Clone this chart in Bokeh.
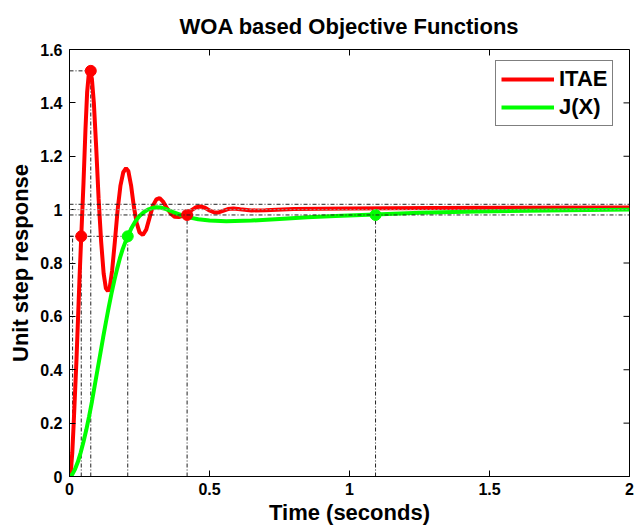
from bokeh.plotting import figure
from bokeh.models import Range1d, LinearAxis, FixedTicker, Legend, LegendItem, Span
from bokeh.embed import file_html
from bokeh.resources import INLINE

# ---------------- data ----------------
itae_t = [0.000, 0.005, 0.010, 0.015, 0.020, 0.025, 0.030, 0.036, 0.042, 0.050,
          0.057, 0.063, 0.069, 0.074, 0.080, 0.087, 0.095, 0.104, 0.113, 0.122,
          0.130, 0.137, 0.144, 0.152, 0.162, 0.172, 0.182, 0.192, 0.202, 0.210,
          0.220, 0.230, 0.240, 0.250, 0.262, 0.274, 0.286, 0.298, 0.310, 0.322,
          0.334, 0.348, 0.362, 0.376, 0.390, 0.405, 0.420, 0.436, 0.452, 0.468,
          0.484, 0.500, 0.515, 0.530, 0.548, 0.566, 0.585, 0.610, 0.650, 0.700,
          0.800, 1.000, 1.300, 1.600, 2.000]
itae_y = [0.000, 0.025, 0.090, 0.200, 0.320, 0.440, 0.580, 0.750, 0.900, 1.100,
          1.300, 1.440, 1.510, 1.520, 1.490, 1.400, 1.240, 1.040, 0.880, 0.760,
          0.705, 0.695, 0.710, 0.770, 0.880, 1.000, 1.090, 1.140, 1.155, 1.145,
          1.090, 1.010, 0.950, 0.915, 0.905, 0.925, 0.970, 1.015, 1.038, 1.043,
          1.030, 1.005, 0.985, 0.973, 0.972, 0.977, 0.984, 0.998, 1.009, 1.012,
          1.007, 0.997, 0.990, 0.989, 0.995, 1.002, 1.004, 1.001, 0.997, 0.998,
          1.002, 1.004, 1.006, 1.007, 1.008]

jx_t = [0.000, 0.010, 0.020, 0.030, 0.040, 0.050, 0.060, 0.070, 0.080, 0.090,
        0.100, 0.110, 0.120, 0.130, 0.140, 0.150, 0.160, 0.170, 0.180, 0.190,
        0.200, 0.208, 0.220, 0.235, 0.250, 0.265, 0.280, 0.295, 0.310, 0.325,
        0.345, 0.370, 0.400, 0.430, 0.460, 0.500, 0.560, 0.650, 0.750, 0.850,
        0.950, 1.090, 1.250, 1.450, 1.700, 2.000]
jx_y = [0.000, 0.008, 0.028, 0.055, 0.090, 0.130, 0.175, 0.225, 0.280, 0.340,
        0.400, 0.460, 0.520, 0.578, 0.634, 0.686, 0.734, 0.778, 0.818, 0.852,
        0.880, 0.900, 0.928, 0.956, 0.976, 0.990, 1.000, 1.006, 1.009, 1.008,
        1.002, 0.991, 0.979, 0.970, 0.964, 0.959, 0.956, 0.959, 0.965, 0.971,
        0.976, 0.982, 0.988, 0.993, 0.997, 1.000]

# characteristic points (rise time, peak, settling)
itae_marker_t = [0.042, 0.076, 0.420]
itae_marker_y = [0.90, 1.52, 0.98]
jx_marker_t = [0.208, 1.093]
jx_marker_y = [0.90, 0.98]
rise_start_t = [0.011]
rise_start_y = [0.90]
band_levels = [0.98, 1.02]
final_level = [1.0]

x_ticks = [0, 0.5, 1, 1.5, 2]
x_tick_labels = ["0", "0.5", "1", "1.5", "2"]
y_ticks = [0, 0.2, 0.4, 0.6, 0.8, 1.0, 1.2, 1.4, 1.6]
y_tick_labels = ["0", "0.2", "0.4", "0.6", "0.8", "1", "1.2", "1.4", "1.6"]

X_MIN, X_MAX = 0, 2
Y_MIN, Y_MAX = 0, 1.6

FONT = "Liberation Sans"
RED = "#ff0000"
GREEN = "#00ff00"
REF = "#222222"
DASH = "4 2 1 2"
W, H = 643, 530
B_LEFT, B_RIGHT, B_TOP, B_BOTTOM = 69, 14, 48, 54
TICK_PX = 6

p = figure(width=W, height=H, x_range=Range1d(X_MIN, X_MAX), y_range=Range1d(Y_MIN, Y_MAX),
           output_backend="svg", toolbar_location=None,
           title="WOA based Objective Functions",
           min_border_left=B_LEFT, min_border_right=B_RIGHT,
           min_border_top=B_TOP, min_border_bottom=B_BOTTOM)
p.xaxis.visible = False
p.yaxis.visible = False
p.grid.visible = False
p.outline_line_color = "black"
p.outline_line_width = 1
p.background_fill_color = "white"
p.border_fill_color = "white"

p.title.text_font = FONT
p.title.text_font_size = "22px"
p.title.text_font_style = "bold"
p.title.align = "center"
p.title.text_color = "black"
p.title.vertical_align = "bottom"
p.title.standoff = 22

def style_axis(ax, ticks, labels):
    ax.ticker = FixedTicker(ticks=ticks)
    ax.major_label_overrides = {t: l for t, l in zip(ticks, labels)}
    ax.minor_tick_line_color = None
    ax.major_tick_in = TICK_PX
    ax.major_tick_out = 0
    ax.axis_line_color = "black"
    ax.major_tick_line_color = "black"
    ax.major_label_text_font = FONT
    ax.major_label_text_font_style = "bold"
    ax.major_label_text_color = "black"
    ax.major_label_text_font_size = "16px"
    ax.axis_label_text_font = FONT
    ax.axis_label_text_font_size = "22px"
    ax.axis_label_text_font_style = "bold"
    ax.axis_label_text_color = "black"

xb = LinearAxis(axis_label="Time (seconds)")
style_axis(xb, x_ticks, x_tick_labels)
xb.major_label_standoff = 6
xb.axis_label_standoff = 2
p.add_layout(xb, "below")

yl = LinearAxis(axis_label="Unit step response")
style_axis(yl, y_ticks, y_tick_labels)
yl.major_label_standoff = 7
yl.axis_label_standoff = 4
p.add_layout(yl, "left")

# box ticks on the top and right edges (MATLAB style), drawn inward
fw = W - B_LEFT - B_RIGHT
fh = H - B_TOP - B_BOTTOM
dx_tick = TICK_PX * (X_MAX - X_MIN) / fw
dy_tick = TICK_PX * (Y_MAX - Y_MIN) / fh
p.segment(x0=x_ticks, y0=[Y_MAX] * len(x_ticks), x1=x_ticks,
          y1=[Y_MAX - dy_tick] * len(x_ticks), line_color="black", line_width=1)
p.segment(x0=[X_MAX] * len(y_ticks), y0=y_ticks, x1=[X_MAX - dx_tick] * len(y_ticks),
          y1=y_ticks, line_color="black", line_width=1)

# reference lines
for lvl in band_levels:
    p.add_layout(Span(location=lvl, dimension="width", line_color=REF,
                      line_width=1, line_dash=DASH))
for lvl in final_level:
    p.add_layout(Span(location=lvl, dimension="width", line_color="#9a9a9a",
                      line_width=1, line_dash="2 2"))

vx = itae_marker_t + jx_marker_t + rise_start_t
vy = itae_marker_y + jx_marker_y + rise_start_y
p.segment(x0=vx, y0=[Y_MIN] * len(vx), x1=vx, y1=vy, line_color=REF, line_width=1, line_dash=DASH)
hx = itae_marker_t[:2] + jx_marker_t[:1]
hy = itae_marker_y[:2] + jx_marker_y[:1]
p.segment(x0=[X_MIN] * len(hx), y0=hy, x1=hx, y1=hy, line_color=REF, line_width=1, line_dash=DASH)

r_itae = p.line(itae_t, itae_y, line_color=RED, line_width=4)
r_jx = p.line(jx_t, jx_y, line_color=GREEN, line_width=4)
p.scatter(itae_marker_t, itae_marker_y, size=11, color=RED)
p.scatter(jx_marker_t, jx_marker_y, size=11, color=GREEN)

legend = Legend(items=[LegendItem(label="ITAE", renderers=[r_itae]),
                       LegendItem(label="J(X)", renderers=[r_jx])],
                location=(426, 350))
legend.label_text_font = FONT
legend.label_text_font_size = "22px"
legend.label_text_font_style = "bold"
legend.label_text_color = "black"
legend.glyph_width = 53
legend.glyph_height = 26
legend.label_height = 26
legend.label_standoff = 5
legend.spacing = 2
legend.padding = 5
legend.margin = 0
legend.border_line_color = "black"
legend.border_line_width = 1
legend.background_fill_color = "white"
legend.background_fill_alpha = 1
p.add_layout(legend)

open("out.html", "w").write(file_html(p, INLINE))
